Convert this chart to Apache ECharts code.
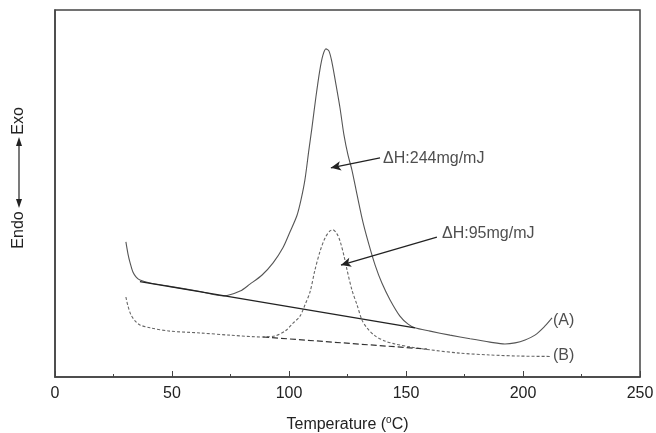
<!DOCTYPE html>
<html>
<head>
<meta charset="utf-8">
<script src="https://cdn.jsdelivr.net/npm/echarts@6/dist/echarts.min.js"></script>
<style>
  html, body { margin: 0; padding: 0; background: #fff; }
  #chart { width: 656px; height: 433px; }
</style>
</head>
<body>
<div id="chart"></div>
<script>
// DSC curves, heat flow in arbitrary units (0-100)
const tempA = [30.3, 31.2, 32.1, 33.3, 34.6, 36.3, 40.6, 49.1, 62.0, 72.2, 79.1, 83.3, 88.5, 93.2, 97.4, 100.4, 103.4, 105.1, 106.8, 108.5, 109.8, 111.5, 113.2, 114.5, 115.8, 117.1, 118.4, 120.1, 121.8, 123.5, 125.2, 126.9, 129.1, 131.6, 134.2, 136.8, 139.7, 143.2, 147.4, 150.9, 153.8, 160.3, 168.8, 177.4, 185.9, 192.3, 196.6, 200.9, 205.1, 209.4, 212.4];
const heatA = [36.8, 33.5, 31.1, 28.6, 27.3, 26.4, 25.6, 24.7, 23.3, 22.1, 23.4, 25.3, 27.8, 31.1, 35.2, 39.5, 44.0, 48.2, 53.7, 61.9, 67.9, 76.3, 83.7, 87.7, 89.4, 88.8, 85.6, 79.6, 73.3, 65.9, 60.5, 56.4, 49.6, 42.2, 36.0, 30.5, 25.6, 21.0, 16.6, 14.4, 13.4, 12.5, 11.4, 10.4, 9.5, 9.0, 9.3, 10.1, 11.4, 13.9, 16.1];

const tempB = [30.3, 31.2, 32.5, 34.2, 36.3, 40.6, 49.1, 62.0, 74.8, 88.9, 94.0, 98.3, 101.3, 104.7, 106.8, 109.0, 111.1, 113.2, 115.4, 117.5, 118.8, 120.5, 121.8, 123.5, 124.8, 126.9, 129.1, 131.2, 133.3, 136.8, 141.0, 145.3, 151.7, 160.3, 173.1, 185.9, 198.7, 211.5];
const heatB = [21.8, 19.3, 16.9, 15.3, 14.2, 13.4, 12.5, 12.0, 11.4, 10.9, 11.2, 12.5, 14.4, 16.6, 19.6, 23.2, 29.2, 34.1, 37.9, 39.8, 40.1, 39.0, 37.1, 33.0, 29.2, 23.7, 19.6, 15.5, 13.4, 11.2, 9.8, 9.0, 8.2, 7.4, 6.5, 6.0, 5.7, 5.6];

// integration baselines
const baseATemp = [36.3, 153.8];
const baseAHeat = [26.0, 13.4];
const baseBTemp = [88.9, 159.0];
const baseBHeat = [10.9, 7.6];

// annotations: [temp, heat, text]
const labelPoints = [
  [140.2, 59.6, 'ΔH:244mg/mJ'],
  [165.4, 39.2, 'ΔH:95mg/mJ'],
  [212.8, 15.3, '(A)'],
  [212.8, 5.7, '(B)']
];
// arrows: [fromTemp, fromHeat, toTemp, toHeat]
const arrows = [
  [138.9, 59.7, 117.9, 57.0],
  [163.2, 38.1, 122.2, 30.5]
];

const zip = (xs, ys) => xs.map((x, i) => [x, ys[i]]);
const font = '"Liberation Sans", Arial, sans-serif';

const chart = echarts.init(document.getElementById('chart'));

const option = {
  animation: false,
  textStyle: { fontFamily: font },
  grid: { left: 55, right: 16, top: 10, bottom: 56, outerBoundsMode: 'none', show: true, borderColor: '#444', borderWidth: 1.5 },
  xAxis: {
    type: 'value', min: 0, max: 250, interval: 50,
    name: 'Temperature ({sup|o}C)',
    nameLocation: 'middle', nameGap: 38,
    nameTextStyle: { fontSize: 16, color: '#222', rich: { sup: { fontSize: 10, verticalAlign: 'top', padding: [0, 0, 9, 0], color: '#222' } } },
    axisLine: { lineStyle: { color: '#444', width: 1.5 } },
    axisTick: { inside: true, length: 6, lineStyle: { color: '#444' } },
    minorTick: { show: true, splitNumber: 2, length: 3, lineStyle: { color: '#444' } },
    axisLabel: { fontSize: 16, color: '#222', margin: 9 },
    splitLine: { show: false }
  },
  yAxis: {
    type: 'value', min: 0, max: 100,
    axisLine: { show: true, lineStyle: { color: '#444', width: 1.5 } },
    axisTick: { show: false },
    axisLabel: { show: false },
    splitLine: { show: false }
  },
  series: [
    {
      name: 'A', type: 'line', data: zip(tempA, heatA), showSymbol: false, smooth: 0.3,
      lineStyle: { color: '#555', width: 1.1 }
    },
    {
      name: 'B', type: 'line', data: zip(tempB, heatB), showSymbol: false, smooth: 0.3,
      lineStyle: { color: '#666', width: 1.1, type: [3, 2] }
    },
    {
      name: 'baseA', type: 'line', data: zip(baseATemp, baseAHeat), showSymbol: false,
      lineStyle: { color: '#222', width: 1.4 },
      markLine: {
        silent: true, symbol: ['none', 'arrow'], symbolSize: [7, 10],
        label: { show: false },
        lineStyle: { color: '#222', width: 1.2, type: 'solid' },
        data: arrows.map(a => [{ coord: [a[0], a[1]] }, { coord: [a[2], a[3]] }])
      }
    },
    {
      name: 'baseB', type: 'line', data: zip(baseBTemp, baseBHeat), showSymbol: false,
      lineStyle: { color: '#333', width: 1.2, type: [6, 3] }
    },
    {
      name: 'labels', type: 'scatter', symbolSize: 0, silent: true,
      data: labelPoints,
      label: {
        show: true, position: 'right', distance: 0,
        fontSize: 16, color: '#222',
        formatter: p => p.value[2]
      }
    }
  ],
  graphic: [
    { type: 'text', x: 19, y: 230, rotation: Math.PI / 2,
      style: { text: 'Endo', font: '16px ' + font, fill: '#222', align: 'center', verticalAlign: 'middle' } },
    { type: 'text', x: 19, y: 121, rotation: Math.PI / 2,
      style: { text: 'Exo', font: '16px ' + font, fill: '#222', align: 'center', verticalAlign: 'middle' } },
    { type: 'line', shape: { x1: 19, y1: 142, x2: 19, y2: 203 }, style: { stroke: '#222', lineWidth: 1.2 } },
    { type: 'polygon', shape: { points: [[19, 137], [16, 146], [22, 146]] }, style: { fill: '#222' } },
    { type: 'polygon', shape: { points: [[19, 208], [16, 199], [22, 199]] }, style: { fill: '#222' } }
  ]
};

chart.setOption(option);
</script>
</body>
</html>
